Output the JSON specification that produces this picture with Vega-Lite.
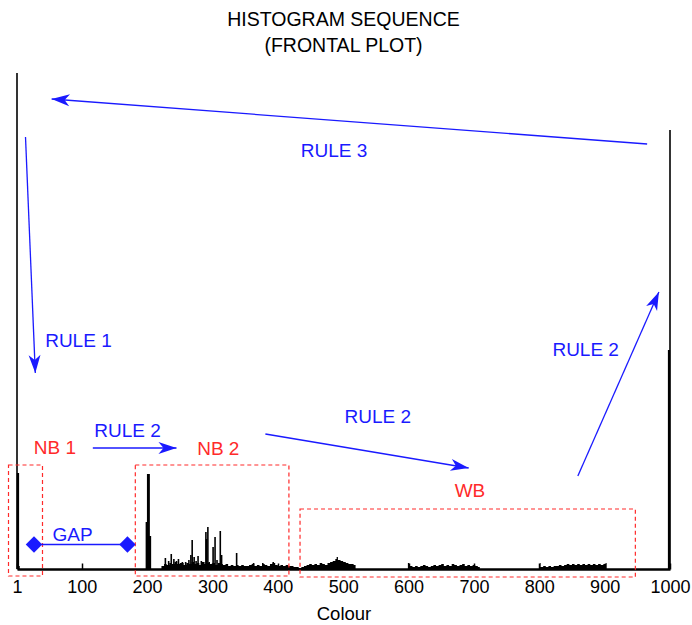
{
  "$schema": "https://vega.github.io/schema/vega-lite/v6.json",
  "autosize": "none",
  "width": 653,
  "height": 500,
  "padding": {"left": 17, "top": 69, "right": 22, "bottom": 56},
  "background": "white",
  "view": {"stroke": null},
  "title": {
    "text": ["HISTOGRAM SEQUENCE", "(FRONTAL PLOT)"],
    "fontSize": 19.5,
    "fontWeight": "normal",
    "font": "Liberation Sans",
    "color": "black",
    "lineHeight": 26,
    "anchor": "middle",
    "offset": 13
  },
  "config": {
    "font": "Liberation Sans",
    "axis": {"grid": false}
  },
  "datasets": {
    "hist": [
      {"c": 1, "v": 496}, {"c": 2, "v": 96}, {"c": 3, "v": 96}, {"c": 4, "v": 3},
      {"c": 199, "v": 47}, {"c": 200, "v": 47}, {"c": 201, "v": 95}, {"c": 202, "v": 95}, {"c": 203, "v": 95}, {"c": 204, "v": 33}, {"c": 205, "v": 33},
      {"c": 228, "v": 11}, {"c": 233, "v": 8}, {"c": 237, "v": 15}, {"c": 241, "v": 10}, {"c": 245, "v": 8}, {"c": 248, "v": 10},
      {"c": 254, "v": 7}, {"c": 259, "v": 7}, {"c": 264, "v": 9}, {"c": 267, "v": 14}, {"c": 269, "v": 29}, {"c": 272, "v": 12},
      {"c": 275, "v": 8}, {"c": 278, "v": 13}, {"c": 283, "v": 8}, {"c": 290, "v": 37}, {"c": 291, "v": 30}, {"c": 293, "v": 42},
      {"c": 295, "v": 7}, {"c": 301, "v": 22}, {"c": 304, "v": 32}, {"c": 307, "v": 9}, {"c": 312, "v": 38}, {"c": 314, "v": 14},
      {"c": 337, "v": 16}, {"c": 363, "v": 6}, {"c": 377, "v": 6}, {"c": 393, "v": 7},
      {"c": 998, "v": 219}, {"c": 999, "v": 219}, {"c": 1000, "v": 439}
    ],
    "floor": [
      {"c": 5, "v": 0}, {"c": 221, "v": 0}, {"c": 222, "v": 3}, {"c": 226, "v": 5}, {"c": 230, "v": 4}, {"c": 234, "v": 6}, {"c": 238, "v": 5},
      {"c": 242, "v": 7}, {"c": 246, "v": 5}, {"c": 250, "v": 6}, {"c": 256, "v": 4}, {"c": 260, "v": 6}, {"c": 264, "v": 5}, {"c": 268, "v": 7},
      {"c": 272, "v": 5}, {"c": 276, "v": 6}, {"c": 280, "v": 4}, {"c": 284, "v": 7}, {"c": 288, "v": 5}, {"c": 292, "v": 6}, {"c": 296, "v": 5},
      {"c": 300, "v": 6}, {"c": 304, "v": 4}, {"c": 308, "v": 6}, {"c": 312, "v": 5}, {"c": 316, "v": 4}, {"c": 320, "v": 5}, {"c": 324, "v": 3},
      {"c": 328, "v": 4}, {"c": 332, "v": 3}, {"c": 336, "v": 4}, {"c": 340, "v": 3}, {"c": 344, "v": 4}, {"c": 348, "v": 3}, {"c": 352, "v": 3},
      {"c": 356, "v": 4}, {"c": 360, "v": 5}, {"c": 364, "v": 3}, {"c": 368, "v": 4}, {"c": 372, "v": 3}, {"c": 376, "v": 5}, {"c": 380, "v": 4},
      {"c": 384, "v": 3}, {"c": 388, "v": 5}, {"c": 392, "v": 6}, {"c": 396, "v": 4}, {"c": 400, "v": 3}, {"c": 404, "v": 4}, {"c": 408, "v": 3},
      {"c": 412, "v": 4}, {"c": 416, "v": 3}, {"c": 420, "v": 3}, {"c": 424, "v": 2}, {"c": 428, "v": 2}, {"c": 432, "v": 1}, {"c": 436, "v": 2},
      {"c": 440, "v": 3}, {"c": 444, "v": 4}, {"c": 448, "v": 5}, {"c": 452, "v": 4}, {"c": 456, "v": 5}, {"c": 460, "v": 4}, {"c": 464, "v": 6},
      {"c": 468, "v": 5}, {"c": 472, "v": 4}, {"c": 476, "v": 6}, {"c": 480, "v": 7}, {"c": 484, "v": 8}, {"c": 488, "v": 10}, {"c": 490, "v": 12},
      {"c": 492, "v": 9}, {"c": 496, "v": 8}, {"c": 500, "v": 7}, {"c": 504, "v": 6}, {"c": 508, "v": 5}, {"c": 512, "v": 5}, {"c": 516, "v": 4},
      {"c": 519, "v": 0}, {"c": 599, "v": 6}, {"c": 601, "v": 0}, {"c": 602, "v": 3}, {"c": 606, "v": 2}, {"c": 610, "v": 3}, {"c": 614, "v": 2},
      {"c": 618, "v": 3}, {"c": 622, "v": 4}, {"c": 626, "v": 3}, {"c": 630, "v": 2}, {"c": 634, "v": 3}, {"c": 638, "v": 4}, {"c": 642, "v": 3},
      {"c": 646, "v": 4}, {"c": 650, "v": 5}, {"c": 654, "v": 3}, {"c": 658, "v": 4}, {"c": 662, "v": 3}, {"c": 666, "v": 5}, {"c": 670, "v": 4},
      {"c": 674, "v": 3}, {"c": 678, "v": 4}, {"c": 682, "v": 5}, {"c": 686, "v": 3}, {"c": 690, "v": 4}, {"c": 694, "v": 3}, {"c": 698, "v": 4},
      {"c": 702, "v": 3}, {"c": 706, "v": 2}, {"c": 709, "v": 0}, {"c": 801, "v": 6}, {"c": 802, "v": 2}, {"c": 806, "v": 3}, {"c": 810, "v": 2},
      {"c": 814, "v": 3}, {"c": 818, "v": 2}, {"c": 822, "v": 3}, {"c": 826, "v": 3}, {"c": 830, "v": 4}, {"c": 834, "v": 3}, {"c": 838, "v": 4},
      {"c": 842, "v": 5}, {"c": 846, "v": 4}, {"c": 850, "v": 5}, {"c": 854, "v": 4}, {"c": 858, "v": 5}, {"c": 862, "v": 4}, {"c": 866, "v": 5},
      {"c": 870, "v": 4}, {"c": 874, "v": 5}, {"c": 878, "v": 4}, {"c": 882, "v": 5}, {"c": 886, "v": 4}, {"c": 890, "v": 5}, {"c": 894, "v": 4},
      {"c": 898, "v": 5}, {"c": 902, "v": 6}, {"c": 903, "v": 0}, {"c": 998, "v": 0}
    ],
    "arrows": [
      {"name": "r3", "c1": 965, "v1": 425, "c2": 54, "v2": 470},
      {"name": "r1", "c1": 14, "v1": 432, "c2": 29, "v2": 196},
      {"name": "r2a", "c1": 117, "v1": 121, "c2": 245, "v2": 121},
      {"name": "r2b", "c1": 381, "v1": 135, "c2": 692, "v2": 101},
      {"name": "r2c", "c1": 859, "v1": 93, "c2": 983, "v2": 277}
    ],
    "labels": [
      {"c": 486, "v": 418, "label": "RULE 3", "kind": "rule"},
      {"c": 95, "v": 228, "label": "RULE 1", "kind": "rule"},
      {"c": 170, "v": 138, "label": "RULE 2", "kind": "rule"},
      {"c": 553, "v": 152, "label": "RULE 2", "kind": "rule"},
      {"c": 871, "v": 219, "label": "RULE 2", "kind": "rule"},
      {"c": 86, "v": 34, "label": "GAP", "kind": "rule"},
      {"c": 59, "v": 121, "label": "NB 1", "kind": "region"},
      {"c": 309, "v": 120, "label": "NB 2", "kind": "region"},
      {"c": 694, "v": 78, "label": "WB", "kind": "region"}
    ],
    "boxes": [
      {"name": "NB 1", "c1": -12, "c2": 40, "v1": -7, "v2": 104},
      {"name": "NB 2", "c1": 182, "c2": 417, "v1": -7, "v2": 104},
      {"name": "WB", "c1": 434, "c2": 947, "v1": -8, "v2": 60}
    ],
    "gap": [
      {"c": 27, "v": 24.5},
      {"c": 170, "v": 24.5}
    ]
  },
  "encoding": {
    "x": {
      "field": "c", "type": "quantitative",
      "scale": {"domain": [1, 1000], "nice": false, "zero": false},
      "axis": {
        "values": [1, 100, 200, 300, 400, 500, 600, 700, 800, 900, 1000],
        "format": "d",
        "title": "Colour",
        "titleFontSize": 18.5, "titleFontWeight": "normal", "titleColor": "black", "titlePadding": 8,
        "labelFontSize": 18, "labelColor": "black", "labelFlush": false, "labelOverlap": false, "labelBound": false, "labelPadding": 15,
        "domainColor": "black", "domainWidth": 2.5, "tickColor": "black", "tickSize": -6, "tickWidth": 1.5
      }
    }
  },
  "layer": [
    {
      "data": {"name": "floor"},
      "mark": {"type": "area", "interpolate": "step-after", "color": "black"},
      "encoding": {
        "y": {"field": "v", "type": "quantitative", "scale": {"domain": [0, 500], "nice": false}, "axis": null}
      }
    },
    {
      "data": {"name": "hist"},
      "mark": {"type": "rule", "color": "black", "strokeWidth": 1.6},
      "encoding": {
        "y": {"field": "v", "type": "quantitative", "axis": null},
        "y2": {"datum": 0}
      }
    },
    {
      "data": {"name": "boxes"},
      "mark": {"type": "rect", "fillOpacity": 0, "fill": "white", "stroke": "#ff2a2a", "strokeWidth": 1.2, "strokeDash": [4, 3]},
      "encoding": {
        "x": {"field": "c1", "type": "quantitative"},
        "x2": {"field": "c2"},
        "y": {"field": "v1", "type": "quantitative"},
        "y2": {"field": "v2"}
      }
    },
    {
      "data": {"name": "arrows"},
      "mark": {"type": "rule", "color": "#1a1aff", "strokeWidth": 1.3},
      "encoding": {
        "x": {"field": "c1", "type": "quantitative"},
        "x2": {"field": "c2"},
        "y": {"field": "v1", "type": "quantitative"},
        "y2": {"field": "v2"}
      }
    },
    {
      "data": {"name": "arrows"},
      "transform": [{"filter": "datum.name === 'r3'"}],
      "mark": {"type": "point", "shape": "M0,0L-1,-0.33L-0.72,0L-1,0.33Z", "filled": true, "color": "#1a1aff", "opacity": 1, "size": 1300, "angle": 184},
      "encoding": {"x": {"field": "c2", "type": "quantitative"}, "y": {"field": "v2", "type": "quantitative"}}
    },
    {
      "data": {"name": "arrows"},
      "transform": [{"filter": "datum.name === 'r1'"}],
      "mark": {"type": "point", "shape": "M0,0L-1,-0.33L-0.72,0L-1,0.33Z", "filled": true, "color": "#1a1aff", "opacity": 1, "size": 1300, "angle": 87.6},
      "encoding": {"x": {"field": "c2", "type": "quantitative"}, "y": {"field": "v2", "type": "quantitative"}}
    },
    {
      "data": {"name": "arrows"},
      "transform": [{"filter": "datum.name === 'r2a'"}],
      "mark": {"type": "point", "shape": "M0,0L-1,-0.33L-0.72,0L-1,0.33Z", "filled": true, "color": "#1a1aff", "opacity": 1, "size": 1300, "angle": 0},
      "encoding": {"x": {"field": "c2", "type": "quantitative"}, "y": {"field": "v2", "type": "quantitative"}}
    },
    {
      "data": {"name": "arrows"},
      "transform": [{"filter": "datum.name === 'r2b'"}],
      "mark": {"type": "point", "shape": "M0,0L-1,-0.33L-0.72,0L-1,0.33Z", "filled": true, "color": "#1a1aff", "opacity": 1, "size": 1300, "angle": 9.7},
      "encoding": {"x": {"field": "c2", "type": "quantitative"}, "y": {"field": "v2", "type": "quantitative"}}
    },
    {
      "data": {"name": "arrows"},
      "transform": [{"filter": "datum.name === 'r2c'"}],
      "mark": {"type": "point", "shape": "M0,0L-1,-0.33L-0.72,0L-1,0.33Z", "filled": true, "color": "#1a1aff", "opacity": 1, "size": 1300, "angle": 293.8},
      "encoding": {"x": {"field": "c2", "type": "quantitative"}, "y": {"field": "v2", "type": "quantitative"}}
    },
    {
      "data": {"name": "gap"},
      "mark": {"type": "line", "color": "#1a1aff", "strokeWidth": 1.3},
      "encoding": {"y": {"field": "v", "type": "quantitative"}}
    },
    {
      "data": {"name": "gap"},
      "mark": {"type": "point", "shape": "diamond", "filled": true, "color": "#1a1aff", "opacity": 1, "size": 270},
      "encoding": {"y": {"field": "v", "type": "quantitative"}}
    },
    {
      "data": {"name": "labels"},
      "mark": {"type": "text", "fontSize": 19, "font": "Liberation Sans", "align": "center", "baseline": "middle"},
      "encoding": {
        "y": {"field": "v", "type": "quantitative"},
        "text": {"field": "label"},
        "color": {"field": "kind", "type": "nominal", "scale": {"domain": ["rule", "region"], "range": ["#1a1aff", "#ff2a2a"]}, "legend": null}
      }
    }
  ]
}
